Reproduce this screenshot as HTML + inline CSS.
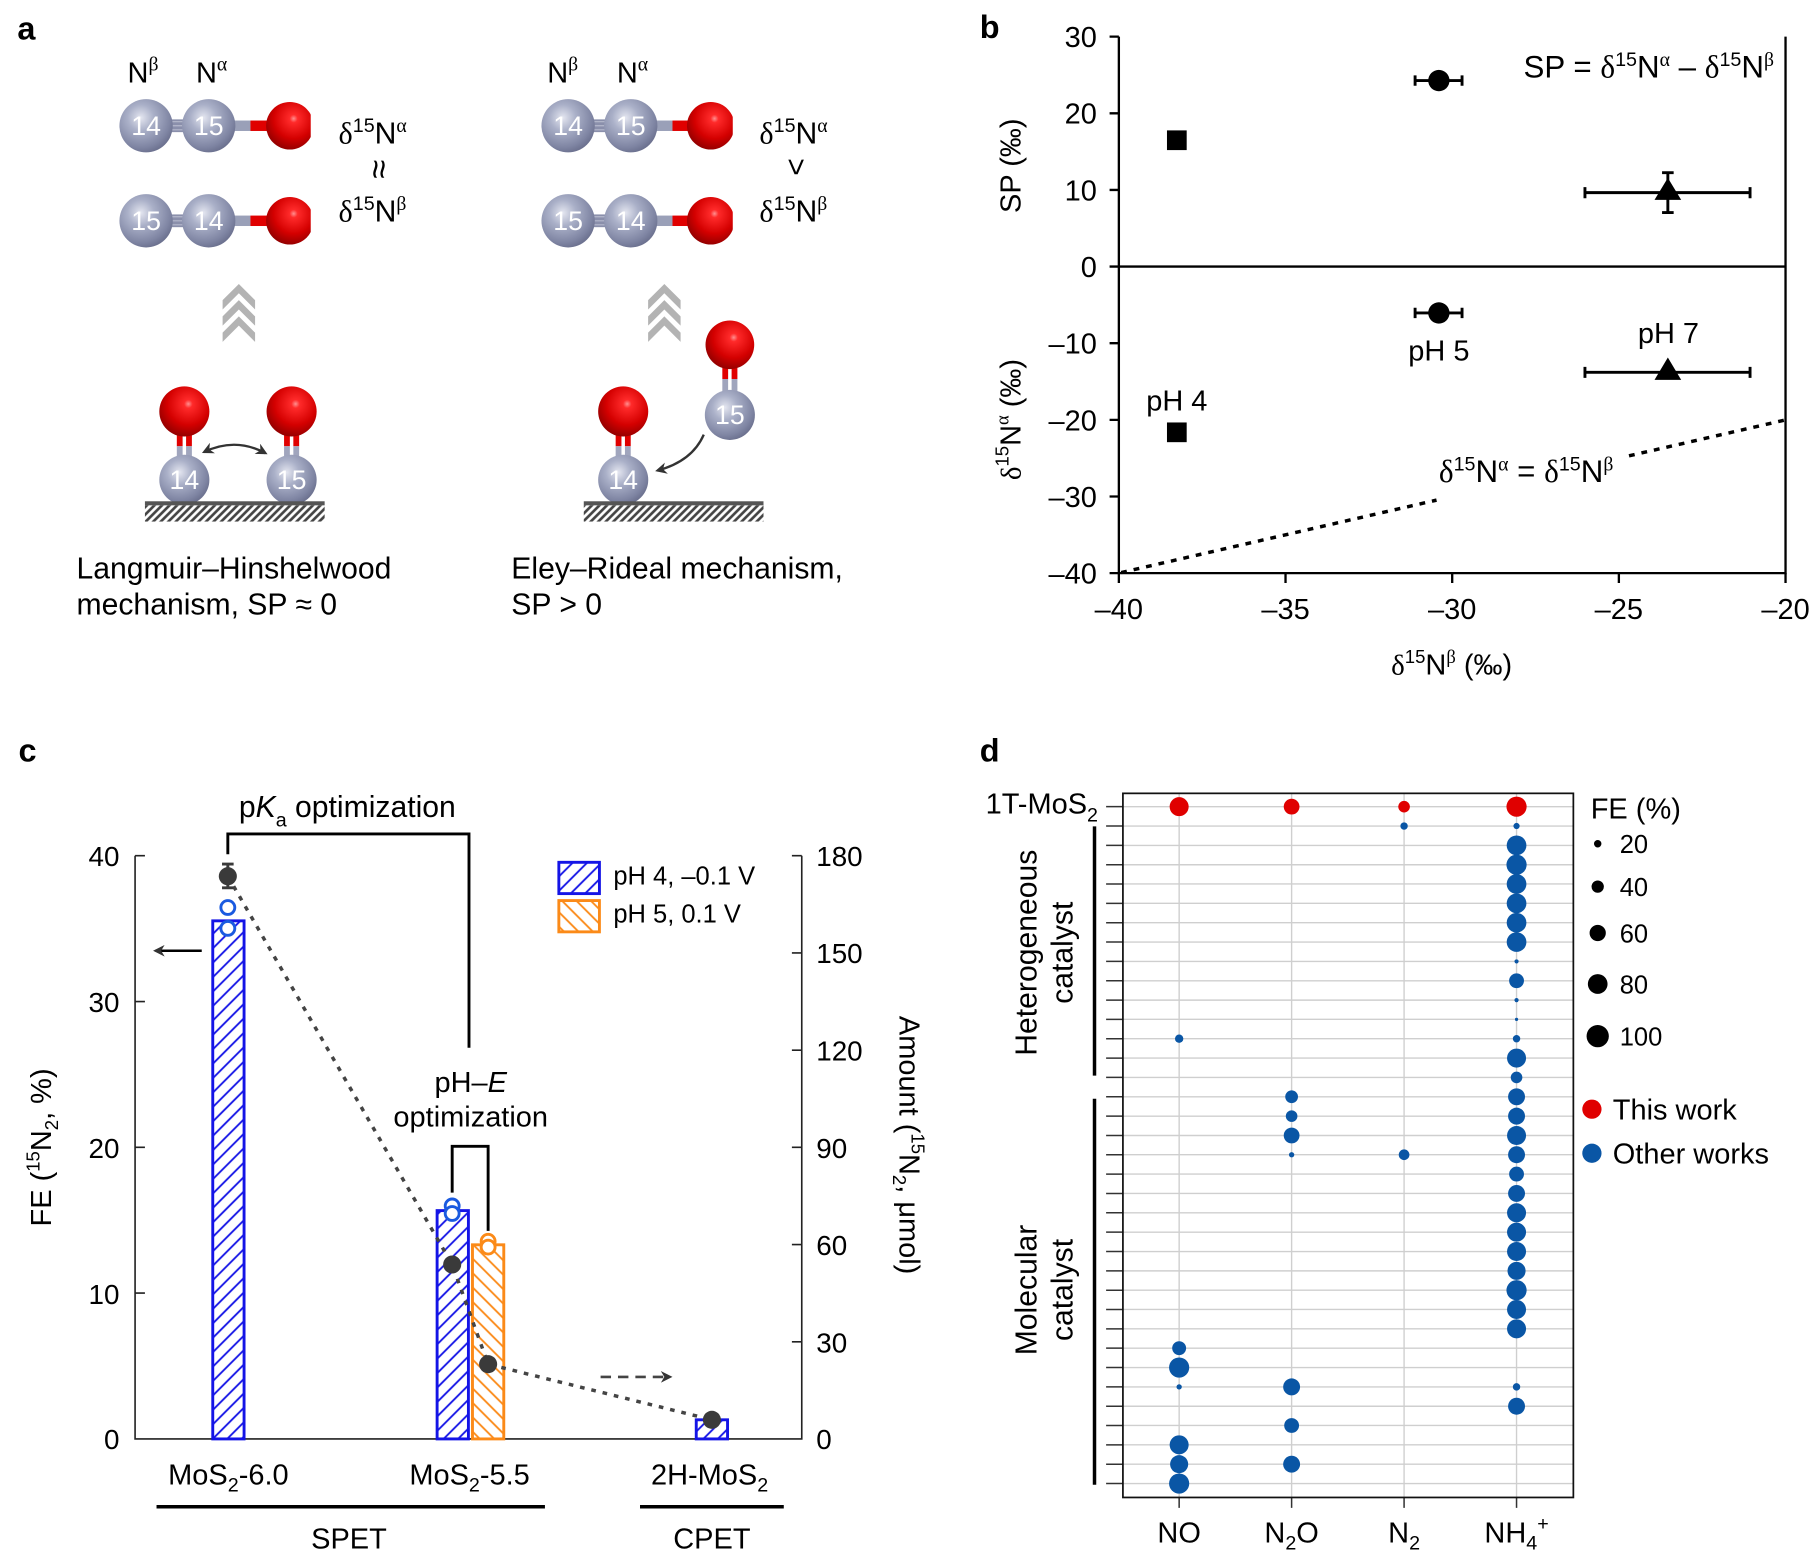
<!DOCTYPE html>
<html><head><meta charset="utf-8"><style>
html,body{margin:0;padding:0;background:#fff;}
svg{display:block;}
text{font-family:"Liberation Sans",Arial,sans-serif;fill:#000;}
.s{font-family:"Liberation Serif","DejaVu Serif",serif;}
</style></head><body>
<svg xmlns="http://www.w3.org/2000/svg" width="1818" height="1567" viewBox="0 0 1568 1352" preserveAspectRatio="none">
<defs>
<radialGradient id="gN" cx="0.4" cy="0.35" r="0.7">
<stop offset="0" stop-color="#e4e6f0"/><stop offset="0.35" stop-color="#aab0c8"/><stop offset="0.8" stop-color="#7e84a2"/><stop offset="1" stop-color="#676c8a"/>
</radialGradient>
<radialGradient id="gO" cx="0.58" cy="0.35" r="0.7">
<stop offset="0" stop-color="#ff9090"/><stop offset="0.12" stop-color="#ff2a2a"/><stop offset="0.6" stop-color="#d40000"/><stop offset="1" stop-color="#8a0000"/>
</radialGradient>
<pattern id="hs" width="4.6" height="4.6" patternUnits="userSpaceOnUse" patternTransform="rotate(45)">
<rect width="4.6" height="4.6" fill="#fff"/><line x1="2.3" y1="0" x2="2.3" y2="4.6" stroke="#444" stroke-width="2.3"/>
</pattern>
<pattern id="hb" width="8.8" height="8.8" patternUnits="userSpaceOnUse" patternTransform="rotate(45)">
<rect width="8.8" height="8.8" fill="#fff"/><line x1="4.4" y1="0" x2="4.4" y2="8.8" stroke="#1414e6" stroke-width="1.6"/>
</pattern>
<pattern id="ho" width="8.8" height="8.8" patternUnits="userSpaceOnUse" patternTransform="rotate(-45)">
<rect width="8.8" height="8.8" fill="#fff"/><line x1="4.4" y1="0" x2="4.4" y2="8.8" stroke="#fb8a18" stroke-width="1.6"/>
</pattern>
<marker id="ah" markerWidth="10" markerHeight="10" refX="8" refY="5" orient="auto" markerUnits="userSpaceOnUse">
<path d="M0,0 L10,5 L0,10 L3,5 Z" fill="#333"/>
</marker>
<marker id="ahs" markerWidth="10" markerHeight="10" refX="2" refY="5" orient="auto" markerUnits="userSpaceOnUse">
<path d="M10,0 L0,5 L10,10 L7,5 Z" fill="#333"/>
</marker>
<clipPath id="cl1"><rect x="0" y="0" width="268" height="260"/></clipPath>
<clipPath id="cl2"><rect x="300" y="0" width="332" height="260"/></clipPath>
</defs>
<rect width="1568" height="1352" fill="#fff"/>

<!-- ================= Panel a ================= -->
<text x="15" y="34" font-size="28" font-weight="bold">a</text>

<text x="110" y="71" font-size="25">N<tspan class="s" dy="-10" font-size="17">β</tspan></text>
<text x="169" y="71" font-size="25">N<tspan class="s" dy="-10" font-size="17">α</tspan></text>
<text x="472" y="71" font-size="25">N<tspan class="s" dy="-10" font-size="17">β</tspan></text>
<text x="532" y="71" font-size="25">N<tspan class="s" dy="-10" font-size="17">α</tspan></text>

<!-- left molecules -->
<g clip-path="url(#cl1)">
<g>
<rect x="126" y="103" width="54" height="11" fill="#8a8fab"/>
<line x1="146" y1="105" x2="162" y2="105" stroke="#b5b9cc" stroke-width="1"/>
<line x1="146" y1="108.5" x2="162" y2="108.5" stroke="#b5b9cc" stroke-width="1"/>
<line x1="146" y1="112" x2="162" y2="112" stroke="#b5b9cc" stroke-width="1"/>
<rect x="180" y="104" width="36" height="9" fill="#9aa0b8"/>
<rect x="216" y="104" width="34" height="9" fill="#e00000"/>
<circle cx="250" cy="108.5" r="20.5" fill="url(#gO)"/>
<circle cx="126" cy="108.5" r="23" fill="url(#gN)"/>
<circle cx="180" cy="108.5" r="23" fill="url(#gN)"/>
</g>
<g>
<rect x="126" y="185" width="54" height="11" fill="#8a8fab"/>
<line x1="146" y1="187" x2="162" y2="187" stroke="#b5b9cc" stroke-width="1"/>
<line x1="146" y1="190.5" x2="162" y2="190.5" stroke="#b5b9cc" stroke-width="1"/>
<line x1="146" y1="194" x2="162" y2="194" stroke="#b5b9cc" stroke-width="1"/>
<rect x="180" y="186" width="36" height="9" fill="#9aa0b8"/>
<rect x="216" y="186" width="34" height="9" fill="#e00000"/>
<circle cx="250" cy="190.5" r="20.5" fill="url(#gO)"/>
<circle cx="126" cy="190.5" r="23" fill="url(#gN)"/>
<circle cx="180" cy="190.5" r="23" fill="url(#gN)"/>
</g>
</g>
<g font-size="23" text-anchor="middle">
<text x="126" y="116.5" style="fill:#fff">14</text>
<text x="180" y="116.5" style="fill:#fff">15</text>
<text x="126" y="198.5" style="fill:#fff">15</text>
<text x="180" y="198.5" style="fill:#fff">14</text>
</g>

<!-- right molecules -->
<g clip-path="url(#cl2)">
<g>
<rect x="490" y="103" width="54" height="11" fill="#8a8fab"/>
<line x1="510" y1="105" x2="526" y2="105" stroke="#b5b9cc" stroke-width="1"/>
<line x1="510" y1="108.5" x2="526" y2="108.5" stroke="#b5b9cc" stroke-width="1"/>
<line x1="510" y1="112" x2="526" y2="112" stroke="#b5b9cc" stroke-width="1"/>
<rect x="544" y="104" width="36" height="9" fill="#9aa0b8"/>
<rect x="580" y="104" width="34" height="9" fill="#e00000"/>
<circle cx="613" cy="108.5" r="20.5" fill="url(#gO)"/>
<circle cx="490" cy="108.5" r="23" fill="url(#gN)"/>
<circle cx="544" cy="108.5" r="23" fill="url(#gN)"/>
</g>
<g>
<rect x="490" y="185" width="54" height="11" fill="#8a8fab"/>
<line x1="510" y1="187" x2="526" y2="187" stroke="#b5b9cc" stroke-width="1"/>
<line x1="510" y1="190.5" x2="526" y2="190.5" stroke="#b5b9cc" stroke-width="1"/>
<line x1="510" y1="194" x2="526" y2="194" stroke="#b5b9cc" stroke-width="1"/>
<rect x="544" y="186" width="36" height="9" fill="#9aa0b8"/>
<rect x="580" y="186" width="34" height="9" fill="#e00000"/>
<circle cx="613" cy="190.5" r="20.5" fill="url(#gO)"/>
<circle cx="490" cy="190.5" r="23" fill="url(#gN)"/>
<circle cx="544" cy="190.5" r="23" fill="url(#gN)"/>
</g>
</g>
<g font-size="23" text-anchor="middle">
<text x="490" y="116.5" style="fill:#fff">14</text>
<text x="544" y="116.5" style="fill:#fff">15</text>
<text x="490" y="198.5" style="fill:#fff">15</text>
<text x="544" y="198.5" style="fill:#fff">14</text>
</g>

<!-- delta labels -->
<text x="292" y="124" font-size="26"><tspan class="s">δ</tspan><tspan dy="-10" font-size="17">15</tspan><tspan dy="10">N</tspan><tspan class="s" dy="-10" font-size="17">α</tspan></text>
<text transform="translate(325,146) rotate(90)" text-anchor="middle" y="8" font-size="30">≈</text>
<text x="292" y="191" font-size="26"><tspan class="s">δ</tspan><tspan dy="-10" font-size="17">15</tspan><tspan dy="10">N</tspan><tspan class="s" dy="-10" font-size="17">β</tspan></text>

<text x="655" y="124" font-size="26"><tspan class="s">δ</tspan><tspan dy="-10" font-size="17">15</tspan><tspan dy="10">N</tspan><tspan class="s" dy="-10" font-size="17">α</tspan></text>
<text transform="translate(687,144) rotate(90)" text-anchor="middle" y="9" font-size="26">&gt;</text>
<text x="655" y="191" font-size="26"><tspan class="s">δ</tspan><tspan dy="-10" font-size="17">15</tspan><tspan dy="10">N</tspan><tspan class="s" dy="-10" font-size="17">β</tspan></text>

<!-- chevrons -->
<g fill="#b3b3b3">
<path d="M192,259 L206,245 L220,259 L220,267 L206,253 L192,267 Z"/>
<path d="M192,273 L206,259 L220,273 L220,281 L206,267 L192,281 Z"/>
<path d="M192,287 L206,273 L220,287 L220,295 L206,281 L192,295 Z"/>
<path d="M559,259 L573,245 L587,259 L587,267 L573,253 L559,267 Z"/>
<path d="M559,273 L573,259 L587,273 L587,281 L573,267 L559,281 Z"/>
<path d="M559,287 L573,273 L587,287 L587,295 L573,281 L559,295 Z"/>
</g>

<!-- bottom left LH -->
<g>
<rect x="152.5" y="370" width="5" height="15" fill="#e00000"/><rect x="160.5" y="370" width="5" height="15" fill="#e00000"/>
<rect x="152.5" y="385" width="5" height="12" fill="#a0a5bd"/><rect x="160.5" y="385" width="5" height="12" fill="#a0a5bd"/>
<rect x="245" y="370" width="5" height="15" fill="#e00000"/><rect x="253" y="370" width="5" height="15" fill="#e00000"/>
<rect x="245" y="385" width="5" height="12" fill="#a0a5bd"/><rect x="253" y="385" width="5" height="12" fill="#a0a5bd"/>
<circle cx="159" cy="355" r="21.6" fill="url(#gO)"/>
<circle cx="251.5" cy="355" r="21.6" fill="url(#gO)"/>
<circle cx="159" cy="414" r="21.6" fill="url(#gN)"/>
<circle cx="251.5" cy="414" r="21.6" fill="url(#gN)"/>
<text x="159" y="422" font-size="23" text-anchor="middle" style="fill:#fff">14</text>
<text x="251.5" y="422" font-size="23" text-anchor="middle" style="fill:#fff">15</text>
<path d="M176,390 Q203,377 229,391" fill="none" stroke="#333" stroke-width="2" marker-start="url(#ahs)" marker-end="url(#ah)"/>
<rect x="125" y="436" width="155" height="14" fill="url(#hs)"/>
<rect x="125" y="432.5" width="155" height="3.5" fill="#555"/>
</g>

<!-- bottom right ER -->
<g>
<rect x="531" y="370" width="5" height="15" fill="#e00000"/><rect x="539" y="370" width="5" height="15" fill="#e00000"/>
<rect x="531" y="385" width="5" height="12" fill="#a0a5bd"/><rect x="539" y="385" width="5" height="12" fill="#a0a5bd"/>
<rect x="623" y="313" width="5" height="14" fill="#e00000"/><rect x="631" y="313" width="5" height="14" fill="#e00000"/>
<rect x="623" y="327" width="5" height="14" fill="#a0a5bd"/><rect x="631" y="327" width="5" height="14" fill="#a0a5bd"/>
<circle cx="537.5" cy="355" r="21.6" fill="url(#gO)"/>
<circle cx="537.5" cy="414" r="21.6" fill="url(#gN)"/>
<circle cx="629.5" cy="297.5" r="21" fill="url(#gO)"/>
<circle cx="629.5" cy="358" r="21.6" fill="url(#gN)"/>
<text x="537.5" y="422" font-size="23" text-anchor="middle" style="fill:#fff">14</text>
<text x="629.5" y="366" font-size="23" text-anchor="middle" style="fill:#fff">15</text>
<path d="M607,375 Q597,398 567,406" fill="none" stroke="#333" stroke-width="2" marker-end="url(#ah)"/>
<rect x="503.5" y="436" width="155" height="14" fill="url(#hs)"/>
<rect x="503.5" y="432.5" width="155" height="3.5" fill="#555"/>
</g>

<text x="66" y="499" font-size="26">Langmuir–Hinshelwood</text>
<text x="66" y="530" font-size="26">mechanism, SP ≈ 0</text>
<text x="441" y="499" font-size="26">Eley–Rideal mechanism,</text>
<text x="441" y="530" font-size="26">SP &gt; 0</text>

<!-- ================= Panel b ================= -->
<text x="845" y="33" font-size="28" font-weight="bold">b</text>
<g stroke="#000" stroke-width="2" fill="none">
<path d="M965,31.6 V494.5 H1540 V31.6"/>
<line x1="965" y1="230" x2="1540" y2="230"/>
<path d="M957,31.6 H965 M957,97.75 H965 M957,163.9 H965 M957,230 H965 M957,296.1 H965 M957,362.25 H965 M957,428.4 H965 M957,494.5 H965"/>
<path d="M965,494.5 V503 M1108.75,494.5 V503 M1252.5,494.5 V503 M1396.25,494.5 V503 M1540,494.5 V503"/>
</g>
<g font-size="25" text-anchor="end">
<text x="946" y="40.6">30</text>
<text x="946" y="106.75">20</text>
<text x="946" y="172.9">10</text>
<text x="946" y="239">0</text>
<text x="946" y="305.1">–10</text>
<text x="946" y="371.25">–20</text>
<text x="946" y="437.4">–30</text>
<text x="946" y="503.5">–40</text>
</g>
<g font-size="25" text-anchor="middle">
<text x="965" y="534">–40</text>
<text x="1108.75" y="534">–35</text>
<text x="1252.5" y="534">–30</text>
<text x="1396.25" y="534">–25</text>
<text x="1540" y="534">–20</text>
</g>
<text x="1252" y="582" font-size="25" text-anchor="middle"><tspan class="s">δ</tspan><tspan dy="-10" font-size="16">15</tspan><tspan dy="10">N</tspan><tspan class="s" dy="-10" font-size="16">β</tspan><tspan dy="10"> (‰)</tspan></text>
<text transform="translate(880,143) rotate(-90)" font-size="25" text-anchor="middle">SP (‰)</text>
<text transform="translate(880,362) rotate(-90)" font-size="25" text-anchor="middle"><tspan class="s">δ</tspan><tspan dy="-10" font-size="16">15</tspan><tspan dy="10">N</tspan><tspan class="s" dy="-10" font-size="16">α</tspan><tspan dy="10"> (‰)</tspan></text>

<text x="1314" y="67" font-size="27">SP = <tspan class="s">δ</tspan><tspan dy="-10" font-size="17">15</tspan><tspan dy="10">N</tspan><tspan class="s" dy="-10" font-size="17">α</tspan><tspan dy="10"> – </tspan><tspan class="s">δ</tspan><tspan dy="-10" font-size="17">15</tspan><tspan dy="10">N</tspan><tspan class="s" dy="-10" font-size="17">β</tspan></text>
<text x="1241" y="416" font-size="27"><tspan class="s">δ</tspan><tspan dy="-10" font-size="17">15</tspan><tspan dy="10">N</tspan><tspan class="s" dy="-10" font-size="17">α</tspan><tspan dy="10"> = </tspan><tspan class="s">δ</tspan><tspan dy="-10" font-size="17">15</tspan><tspan dy="10">N</tspan><tspan class="s" dy="-10" font-size="17">β</tspan></text>

<g stroke="#000" stroke-width="3" stroke-dasharray="5 6" fill="none">
<line x1="967" y1="494" x2="1239" y2="431.5"/>
<line x1="1405" y1="393.3" x2="1540" y2="362.3"/>
</g>

<g fill="#000" stroke="#000">
<rect x="1006.5" y="112.5" width="17" height="17" stroke="none"/>
<rect x="1006.5" y="364.5" width="17" height="17" stroke="none"/>
<path d="M1220.5,69.5 H1261 M1220.5,65 V74 M1261,65 V74" stroke-width="2.5" fill="none"/>
<circle cx="1241" cy="69.5" r="9.2" stroke="none"/>
<path d="M1220.5,270 H1261 M1220.5,265.5 V274.5 M1261,265.5 V274.5" stroke-width="2.5" fill="none"/>
<circle cx="1241" cy="270" r="9.2" stroke="none"/>
<path d="M1367,166.2 H1509.4 M1367,161.5 V171 M1509.4,161.5 V171 M1438.5,149 V183.4 M1433.5,149 H1443.5 M1433.5,183.4 H1443.5" stroke-width="2.5" fill="none"/>
<path d="M1438.5,153.5 L1427,172.5 L1450,172.5 Z" stroke="none"/>
<path d="M1367,321.2 H1509.4 M1367,316.5 V326 M1509.4,316.5 V326" stroke-width="2.5" fill="none"/>
<path d="M1438.5,308.5 L1427,327.8 L1450,327.8 Z" stroke="none"/>
</g>
<text x="1241" y="311" font-size="25" text-anchor="middle">pH 5</text>
<text x="1439" y="296" font-size="25" text-anchor="middle">pH 7</text>
<text x="1015" y="354" font-size="25" text-anchor="middle">pH 4</text>

<!-- ================= Panel c ================= -->
<text x="16" y="657" font-size="28" font-weight="bold">c</text>
<g stroke="#222" stroke-width="1.4" fill="none">
<path d="M116.5,738.3 V1241.5 H691.5 V738.3"/>
<path d="M116.5,738.3 H125 M116.5,864.1 H125 M116.5,989.9 H125 M116.5,1115.7 H125"/>
<path d="M691.5,738.3 H683 M691.5,822.2 H683 M691.5,906.1 H683 M691.5,989.9 H683 M691.5,1073.8 H683 M691.5,1157.7 H683"/>
</g>
<g font-size="24" text-anchor="end">
<text x="103" y="747">40</text>
<text x="103" y="873">30</text>
<text x="103" y="999">20</text>
<text x="103" y="1125">10</text>
<text x="103" y="1250">0</text>
</g>
<g font-size="24">
<text x="704" y="747">180</text>
<text x="704" y="831">150</text>
<text x="704" y="915">120</text>
<text x="704" y="999">90</text>
<text x="704" y="1083">60</text>
<text x="704" y="1167">30</text>
<text x="704" y="1250">0</text>
</g>
<text transform="translate(44,990) rotate(-90)" font-size="25" text-anchor="middle">FE (<tspan dy="-10" font-size="16">15</tspan><tspan dy="10">N</tspan><tspan dy="6" font-size="16">2</tspan><tspan dy="-6">, %)</tspan></text>
<text transform="translate(776,988) rotate(90)" font-size="25" text-anchor="middle">Amount (<tspan dy="-10" font-size="16">15</tspan><tspan dy="10">N</tspan><tspan dy="6" font-size="16">2</tspan><tspan dy="-6">, μmol)</tspan></text>

<rect x="183.5" y="794.5" width="27" height="447" fill="url(#hb)" stroke="#1414e6" stroke-width="2.5"/>
<rect x="377" y="1044.5" width="27" height="197" fill="url(#hb)" stroke="#1414e6" stroke-width="2.5"/>
<rect x="407.5" y="1074" width="27" height="167.5" fill="url(#ho)" stroke="#fb8a18" stroke-width="2.5"/>
<rect x="600.5" y="1225" width="27" height="16.5" fill="url(#hb)" stroke="#1414e6" stroke-width="2.5"/>

<g fill="#fff" stroke-width="2.5">
<circle cx="196.5" cy="783" r="6" stroke="#1a5ae0"/>
<circle cx="196.5" cy="801" r="6" stroke="#1a5ae0"/>
<circle cx="390" cy="1040.5" r="6" stroke="#1a5ae0"/>
<circle cx="390" cy="1047" r="6" stroke="#1a5ae0"/>
<circle cx="421" cy="1071" r="6" stroke="#fb8a18"/>
<circle cx="421" cy="1076" r="6" stroke="#fb8a18"/>
</g>

<path d="M196.5,756 L390,1091 L421,1177 L614,1225" fill="none" stroke="#444" stroke-width="3" stroke-dasharray="4 6"/>
<g fill="#3a3a3a">
<path d="M196.5,745.5 V766 M191.5,745.5 H201.5 M191.5,766 H201.5" stroke="#3a3a3a" stroke-width="2.5"/>
<circle cx="196.5" cy="756" r="7.8"/>
<circle cx="390" cy="1091" r="7.8"/>
<circle cx="421" cy="1177" r="7.8"/>
<circle cx="614" cy="1225" r="7.8"/>
</g>
<line x1="518" y1="1188" x2="578" y2="1188" stroke="#444" stroke-width="2.2" stroke-dasharray="9 6" marker-end="url(#ah)"/>
<line x1="174" y1="820.3" x2="134" y2="820.3" stroke="#000" stroke-width="2.2" marker-end="url(#ah)"/>

<path d="M196.5,737 V719.5 H404.5 V904" fill="none" stroke="#000" stroke-width="2.5"/>
<path d="M390,1029 V989 H421 V1062" fill="none" stroke="#000" stroke-width="2.5"/>
<text x="206" y="705" font-size="26">p<tspan font-style="italic">K</tspan><tspan dy="8" font-size="17">a</tspan><tspan dy="-8"> optimization</tspan></text>
<text x="406" y="942" font-size="25" text-anchor="middle">pH–<tspan font-style="italic">E</tspan></text>
<text x="406" y="972" font-size="25" text-anchor="middle">optimization</text>

<rect x="482" y="744" width="35" height="27" fill="url(#hb)" stroke="#1414e6" stroke-width="2.5"/>
<rect x="482" y="777" width="35" height="27" fill="url(#ho)" stroke="#fb8a18" stroke-width="2.5"/>
<text x="529" y="763" font-size="22">pH 4, –0.1 V</text>
<text x="529" y="796" font-size="22">pH 5, 0.1 V</text>

<text x="197" y="1281" font-size="25" text-anchor="middle">MoS<tspan dy="6" font-size="17">2</tspan><tspan dy="-6">-6.0</tspan></text>
<text x="405" y="1281" font-size="25" text-anchor="middle">MoS<tspan dy="6" font-size="17">2</tspan><tspan dy="-6">-5.5</tspan></text>
<text x="612" y="1281" font-size="25" text-anchor="middle">2H-MoS<tspan dy="6" font-size="17">2</tspan></text>
<line x1="135" y1="1300" x2="470" y2="1300" stroke="#000" stroke-width="3"/>
<line x1="552" y1="1300" x2="676" y2="1300" stroke="#000" stroke-width="3"/>
<text x="301" y="1336" font-size="25" text-anchor="middle">SPET</text>
<text x="614" y="1336" font-size="25" text-anchor="middle">CPET</text>

<!-- ================= Panel d ================= -->
<text x="845" y="657" font-size="28" font-weight="bold">d</text>
<g stroke="#cfcfcf" stroke-width="1.2" fill="none">
<path d="M969,696 H1357 M969,712.7 H1357 M969,729.4 H1357 M969,746.1 H1357 M969,762.7 H1357 M969,779.4 H1357 M969,796.1 H1357 M969,812.8 H1357 M969,829.5 H1357 M969,846.2 H1357 M969,862.9 H1357 M969,879.5 H1357 M969,896.2 H1357 M969,912.9 H1357 M969,929.6 H1357 M969,946.3 H1357 M969,963 H1357 M969,979.7 H1357 M969,996.3 H1357 M969,1013 H1357 M969,1029.7 H1357 M969,1046.4 H1357 M969,1063.1 H1357 M969,1079.8 H1357 M969,1096.5 H1357 M969,1113.2 H1357 M969,1129.8 H1357 M969,1146.5 H1357 M969,1163.2 H1357 M969,1179.9 H1357 M969,1196.6 H1357 M969,1213.3 H1357 M969,1229.9 H1357 M969,1246.6 H1357 M969,1263.3 H1357 M969,1280 H1357"/>
<path d="M1017,685 V1292 M1114,685 V1292 M1211,685 V1292 M1308,685 V1292"/>
</g>
<g stroke="#333" stroke-width="1.3" fill="none">
<path d="M954,696 H969 M954,712.7 H969 M954,729.4 H969 M954,746.1 H969 M954,762.7 H969 M954,779.4 H969 M954,796.1 H969 M954,812.8 H969 M954,829.5 H969 M954,846.2 H969 M954,862.9 H969 M954,879.5 H969 M954,896.2 H969 M954,912.9 H969 M954,929.6 H969 M954,946.3 H969 M954,963 H969 M954,979.7 H969 M954,996.3 H969 M954,1013 H969 M954,1029.7 H969 M954,1046.4 H969 M954,1063.1 H969 M954,1079.8 H969 M954,1096.5 H969 M954,1113.2 H969 M954,1129.8 H969 M954,1146.5 H969 M954,1163.2 H969 M954,1179.9 H969 M954,1196.6 H969 M954,1213.3 H969 M954,1229.9 H969 M954,1246.6 H969 M954,1263.3 H969 M954,1280 H969"/>
<path d="M1017,1292 V1301 M1114,1292 V1301 M1211,1292 V1301 M1308,1292 V1301"/>
</g>
<rect x="968.5" y="684.5" width="388.5" height="607.5" fill="none" stroke="#111" stroke-width="1.5"/>
<line x1="944" y1="713" x2="944" y2="928" stroke="#000" stroke-width="3"/>
<line x1="944" y1="948" x2="944" y2="1281" stroke="#000" stroke-width="3"/>

<text x="947" y="702" font-size="25" text-anchor="end">1T-MoS<tspan dy="7" font-size="17">2</tspan></text>
<text transform="translate(894,822) rotate(-90)" font-size="26" text-anchor="middle">Heterogeneous</text>
<text transform="translate(925,822) rotate(-90)" font-size="26" text-anchor="middle">catalyst</text>
<text transform="translate(894,1113) rotate(-90)" font-size="26" text-anchor="middle">Molecular</text>
<text transform="translate(925,1113) rotate(-90)" font-size="26" text-anchor="middle">catalyst</text>

<g font-size="25" text-anchor="middle">
<text x="1017" y="1331">NO</text>
<text x="1114" y="1331">N<tspan dy="6" font-size="17">2</tspan><tspan dy="-6">O</tspan></text>
<text x="1211" y="1331">N<tspan dy="6" font-size="17">2</tspan></text>
<text x="1308" y="1331">NH<tspan dy="6" font-size="17">4</tspan><tspan dy="-17" font-size="17">+</tspan></text>
</g>

<g fill="#e00000">
<circle cx="1017" cy="696" r="8.2"/>
<circle cx="1114" cy="696" r="6.8"/>
<circle cx="1211" cy="696" r="5"/>
<circle cx="1308" cy="696" r="8.7"/>
</g>
<g fill="#0a56a5">
<circle cx="1017" cy="896.2" r="3.6"/>
<circle cx="1017" cy="1163.2" r="6"/>
<circle cx="1017" cy="1179.9" r="8.7"/>
<circle cx="1017" cy="1196.6" r="2.3"/>
<circle cx="1017" cy="1246.6" r="8.2"/>
<circle cx="1017" cy="1263.3" r="7.8"/>
<circle cx="1017" cy="1280" r="8.7"/>

<circle cx="1114" cy="946.3" r="5.5"/>
<circle cx="1114" cy="963" r="5"/>
<circle cx="1114" cy="979.7" r="6.8"/>
<circle cx="1114" cy="996.3" r="2.3"/>
<circle cx="1114" cy="1196.6" r="7.3"/>
<circle cx="1114" cy="1229.9" r="6.4"/>
<circle cx="1114" cy="1263.3" r="7.3"/>

<circle cx="1211" cy="712.7" r="3.2"/>
<circle cx="1211" cy="996.3" r="4.6"/>

<circle cx="1308" cy="712.7" r="2.7"/>
<circle cx="1308" cy="729.4" r="8.5"/>
<circle cx="1308" cy="746.1" r="8.7"/>
<circle cx="1308" cy="762.7" r="8.5"/>
<circle cx="1308" cy="779.4" r="8.5"/>
<circle cx="1308" cy="796.1" r="8.5"/>
<circle cx="1308" cy="812.8" r="8.5"/>
<circle cx="1308" cy="829.5" r="1.8"/>
<circle cx="1308" cy="846.2" r="6.4"/>
<circle cx="1308" cy="862.9" r="1.8"/>
<circle cx="1308" cy="879.5" r="1.4"/>
<circle cx="1308" cy="896.2" r="3.2"/>
<circle cx="1308" cy="912.9" r="8.2"/>
<circle cx="1308" cy="929.6" r="5"/>
<circle cx="1308" cy="946.3" r="7.3"/>
<circle cx="1308" cy="963" r="7.3"/>
<circle cx="1308" cy="979.7" r="8.2"/>
<circle cx="1308" cy="996.3" r="7.3"/>
<circle cx="1308" cy="1013" r="6.4"/>
<circle cx="1308" cy="1029.7" r="7.3"/>
<circle cx="1308" cy="1046.4" r="8.2"/>
<circle cx="1308" cy="1063.1" r="8.2"/>
<circle cx="1308" cy="1079.8" r="8.2"/>
<circle cx="1308" cy="1096.5" r="7.8"/>
<circle cx="1308" cy="1113.2" r="8.7"/>
<circle cx="1308" cy="1129.8" r="8.2"/>
<circle cx="1308" cy="1146.5" r="8.2"/>
<circle cx="1308" cy="1196.6" r="3.2"/>
<circle cx="1308" cy="1213.3" r="7.3"/>
</g>

<text x="1372" y="706" font-size="25">FE (%)</text>
<g fill="#000">
<circle cx="1378" cy="728" r="3.2"/>
<circle cx="1378" cy="765" r="5.3"/>
<circle cx="1378" cy="805" r="7"/>
<circle cx="1378" cy="849" r="8.5"/>
<circle cx="1378" cy="894" r="9.6"/>
</g>
<g font-size="22">
<text x="1397" y="736">20</text>
<text x="1397" y="773">40</text>
<text x="1397" y="813">60</text>
<text x="1397" y="857">80</text>
<text x="1397" y="902">100</text>
</g>
<circle cx="1373" cy="957" r="8.3" fill="#e00000"/>
<circle cx="1373" cy="995" r="8.3" fill="#0a56a5"/>
<text x="1391" y="966" font-size="25">This work</text>
<text x="1391" y="1004" font-size="25">Other works</text>
</svg>
</body></html>
